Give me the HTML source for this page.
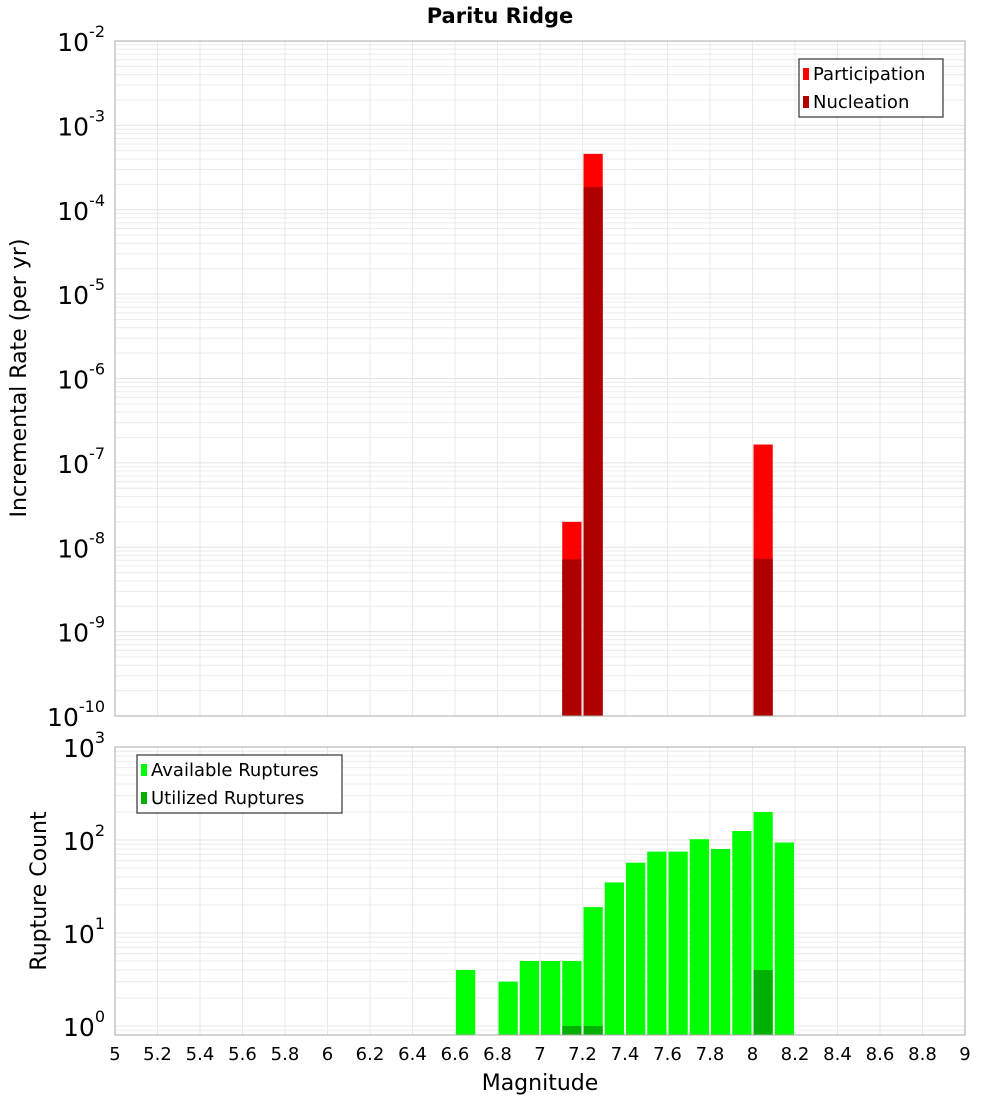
<!DOCTYPE html>
<html><head><meta charset="utf-8"><style>
body{margin:0;background:#fff;font-family:"DejaVu Sans","Liberation Sans",sans-serif}
svg text{font-family:"DejaVu Sans","Liberation Sans",sans-serif}
</style></head><body>
<svg id="c" width="1000" height="1100" xmlns="http://www.w3.org/2000/svg">
<text x="500" y="23" text-anchor="middle" font-size="21" font-weight="bold">Paritu Ridge</text>
<text transform="translate(26,378) rotate(-90)" text-anchor="middle" font-size="22">Incremental Rate (per yr)</text>
<text transform="translate(46,891) rotate(-90)" text-anchor="middle" font-size="22">Rupture Count</text>
<text x="540" y="1090" text-anchor="middle" font-size="22">Magnitude</text>
</svg>
<script>
const rateMags=[7.15,7.25,8.05];
const participation=[2.0e-8,4.6e-4,1.65e-7];
const nucleation=[7.2e-9,1.85e-4,7.3e-9];
const countMags=[6.65,6.85,6.95,7.05,7.15,7.25,7.35,7.45,7.55,7.65,7.75,7.85,7.95,8.05,8.15];
const available=[4,3,5,5,5,19,35,57,75,75,102,80,125,200,94];
const utilMags=[7.15,7.25,8.05];
const utilized=[1,1,4];
const xTicks=[5,5.2,5.4,5.6,5.8,6,6.2,6.4,6.6,6.8,7,7.2,7.4,7.6,7.8,8,8.2,8.4,8.6,8.8,9];
const topExps=[-10,-9,-8,-7,-6,-5,-4,-3,-2];
const botExps=[0,1,2,3];

const svg=document.getElementById('c');const NS='http://www.w3.org/2000/svg';
function el(t,a,p){const e=document.createElementNS(NS,t);for(const k in a)e.setAttribute(k,a[k]);(p||svg).appendChild(e);return e;}
const X0=115,X1=965;
const x=m=>X0+(m-5)/4*(X1-X0);
const T0=41,T1=716;
const yTop=v=>T1-(Math.log10(v)+10)/8*(T1-T0);
const B0=747,B1=1035,BD=93;
const yBot=v=>1026-Math.log10(v)*BD;

function grid(top,bot,yf,e0,e1){
  const g=el('g',{});
  
  for(let e=e0;e<e1+1;e++)for(let k=1;k<10;k++){const y=yf(k*Math.pow(10,e));if(y<top-0.5||y>bot+0.5)continue;
    el('line',{x1:X0,x2:X1,y1:y,y2:y,stroke:k==1?'#e4e4e4':'#ececec','stroke-width':1},g);}
  xTicks.forEach(m=>el('line',{x1:x(m),x2:x(m),y1:top,y2:bot,stroke:'#e8e8e8'},g));
}
grid(T0,T1,yTop,-10,-3);
grid(B0,B1,yBot,-1,3);

const w=(x(5.1)-x(5))-2;
function bar(m,v,yf,base,color,name){
  const r=el('rect',{x:x(m)-w/2,y:yf(v),width:w,height:base-yf(v),fill:color});
  
}
rateMags.forEach((m,i)=>bar(m,participation[i],yTop,T1,'#ff0000','participation-bar'));
rateMags.forEach((m,i)=>bar(m,nucleation[i],yTop,T1,'#b00000','nucleation-bar'));
countMags.forEach((m,i)=>bar(m,available[i],yBot,B1,'#00ff00','available-bar'));
utilMags.forEach((m,i)=>bar(m,utilized[i],yBot,B1,'#00b000','utilized-bar'));

el('rect',{x:X0,y:T0,width:X1-X0,height:T1-T0,fill:'none',stroke:'#aaa'});
el('rect',{x:X0,y:B0,width:X1-X0,height:B1-B0,fill:'none',stroke:'#aaa'});

function ylab(y,e,name){
  const t=el('text',{x:105,y:y+10,'text-anchor':'end','font-size':25});
  
  t.appendChild(document.createTextNode('10'));
  const s=el('tspan',{'font-size':16,dy:-14},t);s.textContent=e;
}
topExps.forEach(e=>ylab(yTop(Math.pow(10,e)),e,'top-y-tick-label'));
botExps.forEach(e=>ylab(yBot(Math.pow(10,e)),e,'bottom-y-tick-label'));
xTicks.forEach(m=>{const t=el('text',{x:x(m),y:1060,'text-anchor':'middle','font-size':18});
  
  t.textContent=String(m);});

function legend(x0,y0,wd,items,name){
  const g=el('g',{});
  el('rect',{x:x0,y:y0,width:wd,height:58,fill:'#fff',stroke:'#333','stroke-width':1.2},g);
  items.forEach((it,i)=>{el('rect',{x:x0+4,y:y0+9+i*28,width:6,height:12,fill:it[1]},g);
    const t=el('text',{x:x0+14,y:y0+21+i*28,'font-size':18},g);t.textContent=it[0];});
}
legend(799,59,144,[['Participation','#ff0000'],['Nucleation','#b00000']],'top-legend');
legend(137,755,205,[['Available Ruptures','#00ff00'],['Utilized Ruptures','#00b000']],'bottom-legend');
</script>
</body></html>
